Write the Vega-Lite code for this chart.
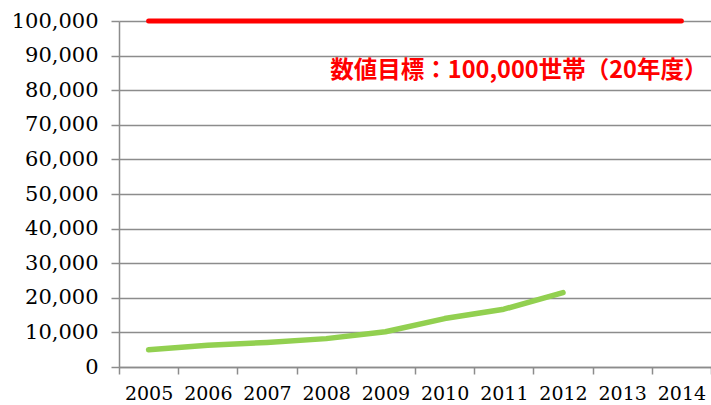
{
  "$schema": "https://vega.github.io/schema/vega-lite/v6.json",
  "width": 592,
  "height": 346,
  "autosize": "none",
  "padding": {"left": 119, "top": 21, "right": 0, "bottom": 38},
  "background": "white",
  "config": {"view": {"stroke": null}},
  "datasets": {
    "actual": [
      {"year": "2005", "value": 5000},
      {"year": "2006", "value": 6300},
      {"year": "2007", "value": 7100},
      {"year": "2008", "value": 8200},
      {"year": "2009", "value": 10200},
      {"year": "2010", "value": 14000},
      {"year": "2011", "value": 16700},
      {"year": "2012", "value": 21500}
    ],
    "target": [
      {"year": "2005", "value": 100000},
      {"year": "2014", "value": 100000}
    ],
    "label": [
      {"year": "2014", "value": 85500, "text": "数値目標：100,000世帯（20年度）"}
    ]
  },
  "encoding": {
    "x": {
      "field": "year",
      "type": "ordinal",
      "scale": {"type": "band", "paddingInner": 0, "paddingOuter": 0, "domain": ["2005","2006","2007","2008","2009","2010","2011","2012","2013","2014"]},
      "axis": {
        "title": null,
        "labelAngle": 0,
        "tickBand": "extent",
        "domainColor": "#8c8c8c",
        "domainWidth": 1.5,
        "tickColor": "#8c8c8c",
        "tickWidth": 1.5,
        "tickSize": 7,
        "labelFont": "DejaVu Serif",
        "labelFontSize": 19,
        "labelColor": "#000000",
        "labelPadding": 10,
        "grid": false
      }
    },
    "y": {
      "field": "value",
      "type": "quantitative",
      "scale": {"domain": [0, 100000], "nice": false},
      "axis": {
        "title": null,
        "values": [0,10000,20000,30000,40000,50000,60000,70000,80000,90000,100000],
        "format": ",d",
        "grid": true,
        "gridColor": "#8c8c8c",
        "gridWidth": 1.5,
        "domainColor": "#8c8c8c",
        "domainWidth": 1.5,
        "tickColor": "#8c8c8c",
        "tickWidth": 1.5,
        "tickSize": 8,
        "labelFont": "DejaVu Serif",
        "labelFontSize": 21,
        "labelColor": "#000000",
        "labelPadding": 13
      }
    }
  },
  "layer": [
    {
      "data": {"name": "target"},
      "mark": {"type": "line", "color": "#ff0000", "strokeWidth": 5, "strokeCap": "round"}
    },
    {
      "data": {"name": "actual"},
      "mark": {"type": "line", "color": "#92d050", "strokeWidth": 5.5, "strokeCap": "round", "strokeJoin": "round"}
    },
    {
      "data": {"name": "label"},
      "mark": {"type": "text", "color": "#ff0000", "font": "Noto Sans CJK JP", "fontWeight": "bold", "fontSize": 23.5, "align": "right", "baseline": "middle", "dx": 26},
      "encoding": {"text": {"field": "text"}}
    }
  ]
}
